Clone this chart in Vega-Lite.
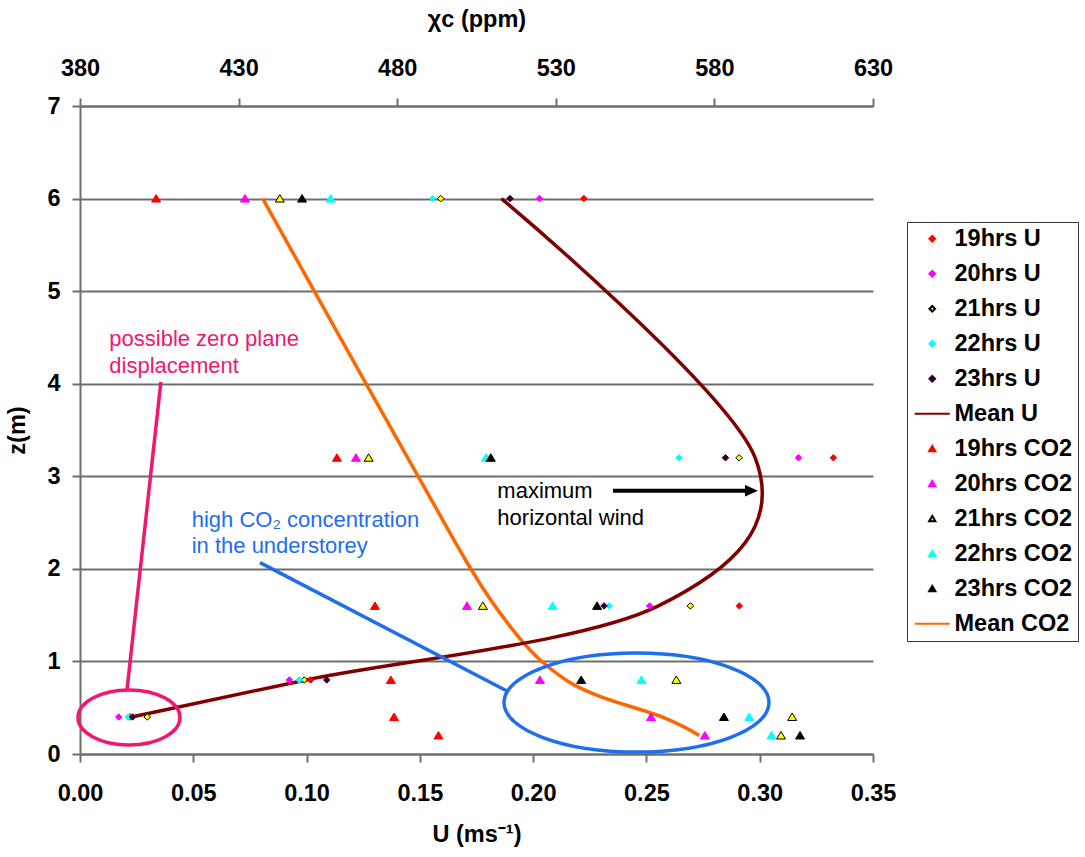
{
  "$schema": "https://vega.github.io/schema/vega-lite/v6.json",
  "width": 793,
  "height": 648,
  "autosize": {"type": "none"},
  "padding": {"left": 80, "top": 106, "right": 212, "bottom": 103},
  "background": "white",
  "config": {
    "font": "Liberation Sans",
    "view": {"stroke": null},
    "axis": {
      "labelFont": "Liberation Sans", "labelFontSize": 23.5, "labelFontWeight": "bold", "labelColor": "#000",
      "titleFont": "Liberation Sans", "titleFontSize": 23.5, "titleFontWeight": "bold", "titleColor": "#000",
      "domainColor": "#6e6e6e", "domainWidth": 2, "tickColor": "#6e6e6e", "tickWidth": 2, "tickSize": 8,
      "gridColor": "#6e6e6e", "gridWidth": 2, "grid": false, "labelFlush": false, "labelOverlap": false
    }
  },
  "datasets": {
    "u": [
      {"series": "19hrs U", "z": 6, "U": 0.2224}, {"series": "19hrs U", "z": 3.2, "U": 0.3325}, {"series": "19hrs U", "z": 1.6, "U": 0.291}, {"series": "19hrs U", "z": 0.8, "U": 0.1018}, {"series": "19hrs U", "z": 0.4, "U": 0.022},
      {"series": "20hrs U", "z": 6, "U": 0.2028}, {"series": "20hrs U", "z": 3.2, "U": 0.3171}, {"series": "20hrs U", "z": 1.6, "U": 0.2514}, {"series": "20hrs U", "z": 0.8, "U": 0.0924}, {"series": "20hrs U", "z": 0.4, "U": 0.0171},
      {"series": "21hrs U", "z": 6, "U": 0.1592}, {"series": "21hrs U", "z": 3.2, "U": 0.2909}, {"series": "21hrs U", "z": 1.6, "U": 0.2694}, {"series": "21hrs U", "z": 0.8, "U": 0.099}, {"series": "21hrs U", "z": 0.4, "U": 0.0297},
      {"series": "22hrs U", "z": 6, "U": 0.1556}, {"series": "22hrs U", "z": 3.2, "U": 0.2644}, {"series": "22hrs U", "z": 1.6, "U": 0.2336}, {"series": "22hrs U", "z": 0.8, "U": 0.0968}, {"series": "22hrs U", "z": 0.4, "U": 0.0213},
      {"series": "23hrs U", "z": 6, "U": 0.1898}, {"series": "23hrs U", "z": 3.2, "U": 0.2849}, {"series": "23hrs U", "z": 1.6, "U": 0.2313}, {"series": "23hrs U", "z": 0.8, "U": 0.1089}, {"series": "23hrs U", "z": 0.4, "U": 0.0232},
      {"series": "Mean U", "z": 6, "U": 0.186}, {"series": "Mean U", "z": 3.2, "U": 0.298}, {"series": "Mean U", "z": 1.6, "U": 0.2553}, {"series": "Mean U", "z": 0.8, "U": 0.0998}, {"series": "Mean U", "z": 0.4, "U": 0.0228}
    ],
    "co2": [
      {"series": "19hrs CO2", "z": 6, "CO2": 404}, {"series": "19hrs CO2", "z": 3.2, "CO2": 461}, {"series": "19hrs CO2", "z": 1.6, "CO2": 473}, {"series": "19hrs CO2", "z": 0.8, "CO2": 478}, {"series": "19hrs CO2", "z": 0.4, "CO2": 479}, {"series": "19hrs CO2", "z": 0.2, "CO2": 493},
      {"series": "20hrs CO2", "z": 6, "CO2": 432}, {"series": "20hrs CO2", "z": 3.2, "CO2": 467}, {"series": "20hrs CO2", "z": 1.6, "CO2": 502}, {"series": "20hrs CO2", "z": 0.8, "CO2": 525}, {"series": "20hrs CO2", "z": 0.4, "CO2": 560}, {"series": "20hrs CO2", "z": 0.2, "CO2": 577},
      {"series": "21hrs CO2", "z": 6, "CO2": 443}, {"series": "21hrs CO2", "z": 3.2, "CO2": 471}, {"series": "21hrs CO2", "z": 1.6, "CO2": 507}, {"series": "21hrs CO2", "z": 0.8, "CO2": 568}, {"series": "21hrs CO2", "z": 0.4, "CO2": 604.5}, {"series": "21hrs CO2", "z": 0.2, "CO2": 601},
      {"series": "22hrs CO2", "z": 6, "CO2": 459}, {"series": "22hrs CO2", "z": 3.2, "CO2": 508}, {"series": "22hrs CO2", "z": 1.6, "CO2": 529}, {"series": "22hrs CO2", "z": 0.8, "CO2": 557}, {"series": "22hrs CO2", "z": 0.4, "CO2": 591}, {"series": "22hrs CO2", "z": 0.2, "CO2": 598},
      {"series": "23hrs CO2", "z": 6, "CO2": 450}, {"series": "23hrs CO2", "z": 3.2, "CO2": 509.5}, {"series": "23hrs CO2", "z": 1.6, "CO2": 543}, {"series": "23hrs CO2", "z": 0.8, "CO2": 538}, {"series": "23hrs CO2", "z": 0.4, "CO2": 583}, {"series": "23hrs CO2", "z": 0.2, "CO2": 607},
      {"series": "Mean CO2", "z": 6, "CO2": 437.6}, {"series": "Mean CO2", "z": 3.2, "CO2": 483.3}, {"series": "Mean CO2", "z": 1.6, "CO2": 510.8}, {"series": "Mean CO2", "z": 0.8, "CO2": 533.2}, {"series": "Mean CO2", "z": 0.4, "CO2": 563.5}, {"series": "Mean CO2", "z": 0.2, "CO2": 575.2}
    ],
    "notes": [
      {"note": "zero", "label": "possible zero plane\ndisplacement", "U": 0.01293, "z": 4.407},
      {"note": "co2", "label": "high CO₂ concentration\nin the understorey", "U": 0.0493, "z": 2.455},
      {"note": "wind", "label": "maximum\nhorizontal wind", "U": 0.1842, "z": 2.762}
    ],
    "connectors": [
      {"note": "zero", "U": 0.0357, "z": 4.018, "U2": 0.02074, "z2": 0.691},
      {"note": "co2", "U": 0.07944, "z": 2.067, "U2": 0.18846, "z2": 0.6806},
      {"note": "wind", "U": 0.23525, "z": 2.844, "U2": 0.29682, "z2": 2.844}
    ],
    "ellipses": [
      {"note": "zero", "U": 0.02163, "z": 0.394},
      {"note": "co2", "U": 0.24562, "z": 0.556}
    ],
    "arrowhead": [
      {"note": "wind", "U": 0.29638, "z": 2.844}
    ]
  },
  "encoding": {
    "y": {
      "field": "z", "type": "quantitative",
      "scale": {"domain": [0, 7], "nice": false, "zero": false},
      "axis": {"values": [0, 1, 2, 3, 4, 5, 6, 7], "format": "d", "grid": true, "title": "z(m)", "labelPadding": 12, "titlePadding": 17}
    }
  },
  "layer": [
    {
      "encoding": {
        "x": {
          "field": "CO2", "type": "quantitative",
          "scale": {"domain": [380, 630], "nice": false, "zero": false},
          "axis": {"orient": "top", "values": [380, 430, 480, 530, 580, 630], "format": "d", "title": "χc (ppm)", "labelPadding": 18, "titlePadding": 25}
        }
      },
      "layer": [
        {
          "data": {"name": "co2"},
          "transform": [{"filter": "datum.series == 'Mean CO2'"}],
          "mark": {"type": "line", "interpolate": "cardinal", "strokeWidth": 3.5, "color": "#ff6600"},
          "encoding": {"order": {"field": "z", "type": "quantitative"}}
        },
        {
          "data": {"name": "co2"},
          "transform": [{"filter": "datum.series != 'Mean CO2'"}],
          "mark": {"type": "point", "filled": true, "size": 100, "opacity": 1, "strokeWidth": 1},
          "encoding": {
            "color": {"field": "series", "type": "nominal",
              "scale": {"domain": ["19hrs U", "20hrs U", "21hrs U", "22hrs U", "23hrs U", "Mean U", "19hrs CO2", "20hrs CO2", "21hrs CO2", "22hrs CO2", "23hrs CO2", "Mean CO2"],
                "range": ["#ff0000", "#ff00ff", "#ffff00", "#00ffff", "#330033", "#800000", "#ff0000", "#ff00ff", "#ffff00", "#00ffff", "#000000", "#ff6600"]},
              "legend": {"orient": "none", "legendX": 827, "legendY": 116, "title": null,
                "labelFont": "Liberation Sans", "labelFontSize": 23.5, "labelFontWeight": "bold", "labelColor": "#000",
                "symbolSize": 49, "symbolStrokeWidth": 2, "symbolOffset": 8.5, "labelOffset": 10.5, "rowPadding": 10, "padding": 5,
                "strokeColor": "#333333", "fillColor": "white", "symbolOpacity": 1}},
            "stroke": {"field": "series", "type": "nominal",
              "scale": {"domain": ["19hrs U", "20hrs U", "21hrs U", "22hrs U", "23hrs U", "Mean U", "19hrs CO2", "20hrs CO2", "21hrs CO2", "22hrs CO2", "23hrs CO2", "Mean CO2"],
                "range": ["#ff0000", "#ff00ff", "#000000", "#00ffff", "#330033", "#800000", "#ff0000", "#ff00ff", "#000000", "#00ffff", "#000000", "#ff6600"]},
              "legend": {"orient": "none", "legendX": 827, "legendY": 116, "title": null,
                "labelFont": "Liberation Sans", "labelFontSize": 23.5, "labelFontWeight": "bold", "labelColor": "#000",
                "symbolSize": 49, "symbolStrokeWidth": 2, "symbolOffset": 8.5, "labelOffset": 10.5, "rowPadding": 10, "padding": 5,
                "strokeColor": "#333333", "fillColor": "white", "symbolOpacity": 1}},
            "shape": {"field": "series", "type": "nominal",
              "scale": {"domain": ["19hrs U", "20hrs U", "21hrs U", "22hrs U", "23hrs U", "Mean U", "19hrs CO2", "20hrs CO2", "21hrs CO2", "22hrs CO2", "23hrs CO2", "Mean CO2"],
                "range": ["M 0 -0.8 L 0.8 0 L 0 0.8 L -0.8 0 Z", "M 0 -0.8 L 0.8 0 L 0 0.8 L -0.8 0 Z", "M 0 -0.8 L 0.8 0 L 0 0.8 L -0.8 0 Z", "M 0 -0.8 L 0.8 0 L 0 0.8 L -0.8 0 Z", "M 0 -0.8 L 0.8 0 L 0 0.8 L -0.8 0 Z", "M -5 0 L 5 0",
                  "M 0 -0.8 L 0.9 0.7 L -0.9 0.7 Z", "M 0 -0.8 L 0.9 0.7 L -0.9 0.7 Z", "M 0 -0.8 L 0.9 0.7 L -0.9 0.7 Z", "M 0 -0.8 L 0.9 0.7 L -0.9 0.7 Z", "M 0 -0.8 L 0.9 0.7 L -0.9 0.7 Z", "M -5 0 L 5 0"]},
              "legend": {"orient": "none", "legendX": 827, "legendY": 116, "title": null,
                "labelFont": "Liberation Sans", "labelFontSize": 23.5, "labelFontWeight": "bold", "labelColor": "#000",
                "symbolSize": 49, "symbolStrokeWidth": 2, "symbolOffset": 8.5, "labelOffset": 10.5, "rowPadding": 10, "padding": 5,
                "strokeColor": "#333333", "fillColor": "white", "symbolOpacity": 1}}
          }
        }
      ]
    },
    {
      "encoding": {
        "x": {
          "field": "U", "type": "quantitative",
          "scale": {"domain": [0, 0.35], "nice": false, "zero": false},
          "axis": {"orient": "bottom", "values": [0, 0.05, 0.1, 0.15, 0.2, 0.25, 0.3, 0.35], "format": ".2f", "title": "U (ms⁻¹)", "labelPadding": 19, "titlePadding": 18}
        }
      },
      "layer": [
        {
          "data": {"name": "u"},
          "transform": [{"filter": "datum.series == 'Mean U'"}],
          "mark": {"type": "line", "interpolate": "cardinal", "strokeWidth": 3.5, "color": "#800000"},
          "encoding": {"order": {"field": "z", "type": "quantitative"}}
        },
        {
          "data": {"name": "u"},
          "transform": [{"filter": "datum.series != 'Mean U'"}],
          "mark": {"type": "point", "filled": true, "size": 66, "opacity": 1, "strokeWidth": 1},
          "encoding": {
            "color": {"field": "series", "type": "nominal",
              "scale": {"domain": ["19hrs U", "20hrs U", "21hrs U", "22hrs U", "23hrs U", "Mean U", "19hrs CO2", "20hrs CO2", "21hrs CO2", "22hrs CO2", "23hrs CO2", "Mean CO2"],
                "range": ["#ff0000", "#ff00ff", "#ffff00", "#00ffff", "#330033", "#800000", "#ff0000", "#ff00ff", "#ffff00", "#00ffff", "#000000", "#ff6600"]},
              "legend": {"orient": "none", "legendX": 827, "legendY": 116, "title": null,
                "labelFont": "Liberation Sans", "labelFontSize": 23.5, "labelFontWeight": "bold", "labelColor": "#000",
                "symbolSize": 49, "symbolStrokeWidth": 2, "symbolOffset": 8.5, "labelOffset": 10.5, "rowPadding": 10, "padding": 5,
                "strokeColor": "#333333", "fillColor": "white", "symbolOpacity": 1}},
            "stroke": {"field": "series", "type": "nominal",
              "scale": {"domain": ["19hrs U", "20hrs U", "21hrs U", "22hrs U", "23hrs U", "Mean U", "19hrs CO2", "20hrs CO2", "21hrs CO2", "22hrs CO2", "23hrs CO2", "Mean CO2"],
                "range": ["#ff0000", "#ff00ff", "#000000", "#00ffff", "#330033", "#800000", "#ff0000", "#ff00ff", "#000000", "#00ffff", "#000000", "#ff6600"]},
              "legend": {"orient": "none", "legendX": 827, "legendY": 116, "title": null,
                "labelFont": "Liberation Sans", "labelFontSize": 23.5, "labelFontWeight": "bold", "labelColor": "#000",
                "symbolSize": 49, "symbolStrokeWidth": 2, "symbolOffset": 8.5, "labelOffset": 10.5, "rowPadding": 10, "padding": 5,
                "strokeColor": "#333333", "fillColor": "white", "symbolOpacity": 1}},
            "shape": {"field": "series", "type": "nominal",
              "scale": {"domain": ["19hrs U", "20hrs U", "21hrs U", "22hrs U", "23hrs U", "Mean U", "19hrs CO2", "20hrs CO2", "21hrs CO2", "22hrs CO2", "23hrs CO2", "Mean CO2"],
                "range": ["M 0 -0.8 L 0.8 0 L 0 0.8 L -0.8 0 Z", "M 0 -0.8 L 0.8 0 L 0 0.8 L -0.8 0 Z", "M 0 -0.8 L 0.8 0 L 0 0.8 L -0.8 0 Z", "M 0 -0.8 L 0.8 0 L 0 0.8 L -0.8 0 Z", "M 0 -0.8 L 0.8 0 L 0 0.8 L -0.8 0 Z", "M -5 0 L 5 0",
                  "M 0 -0.8 L 0.9 0.7 L -0.9 0.7 Z", "M 0 -0.8 L 0.9 0.7 L -0.9 0.7 Z", "M 0 -0.8 L 0.9 0.7 L -0.9 0.7 Z", "M 0 -0.8 L 0.9 0.7 L -0.9 0.7 Z", "M 0 -0.8 L 0.9 0.7 L -0.9 0.7 Z", "M -5 0 L 5 0"]},
              "legend": {"orient": "none", "legendX": 827, "legendY": 116, "title": null,
                "labelFont": "Liberation Sans", "labelFontSize": 23.5, "labelFontWeight": "bold", "labelColor": "#000",
                "symbolSize": 49, "symbolStrokeWidth": 2, "symbolOffset": 8.5, "labelOffset": 10.5, "rowPadding": 10, "padding": 5,
                "strokeColor": "#333333", "fillColor": "white", "symbolOpacity": 1}}
          }
        },
        {
          "data": {"name": "ellipses"},
          "transform": [{"filter": "datum.note == 'zero'"}],
          "mark": {"type": "point", "filled": false, "opacity": 1, "color": "#f0186e", "strokeWidth": 3.5, "size": 10404,
            "shape": "M -1 0 C -1 -0.298 -0.5523 -0.54 0 -0.54 C 0.5523 -0.54 1 -0.298 1 0 C 1 0.298 0.5523 0.54 0 0.54 C -0.5523 0.54 -1 0.298 -1 0 Z"},
          "encoding": {}
        },
        {
          "data": {"name": "ellipses"},
          "transform": [{"filter": "datum.note == 'co2'"}],
          "mark": {"type": "point", "filled": false, "opacity": 1, "color": "#1e6ef0", "strokeWidth": 3.5, "size": 70225,
            "shape": "M -1 0 C -1 -0.2063 -0.5523 -0.3736 0 -0.3736 C 0.5523 -0.3736 1 -0.2063 1 0 C 1 0.2063 0.5523 0.3736 0 0.3736 C -0.5523 0.3736 -1 0.2063 -1 0 Z"},
          "encoding": {}
        },
        {
          "data": {"name": "connectors"},
          "transform": [{"filter": "datum.note == 'zero'"}],
          "mark": {"type": "rule", "color": "#f0186e", "strokeWidth": 3.5},
          "encoding": {"x2": {"field": "U2"}, "y2": {"field": "z2"}}
        },
        {
          "data": {"name": "connectors"},
          "transform": [{"filter": "datum.note == 'co2'"}],
          "mark": {"type": "rule", "color": "#1e6ef0", "strokeWidth": 3.5},
          "encoding": {"x2": {"field": "U2"}, "y2": {"field": "z2"}}
        },
        {
          "data": {"name": "connectors"},
          "transform": [{"filter": "datum.note == 'wind'"}],
          "mark": {"type": "rule", "color": "#000000", "strokeWidth": 4},
          "encoding": {"x2": {"field": "U2"}, "y2": {"field": "z2"}}
        },
        {
          "data": {"name": "arrowhead"},
          "mark": {"type": "point", "filled": true, "opacity": 1, "color": "#000000", "size": 169,
            "shape": "M -1 -0.9 L 1 0 L -1 0.9 Z"},
          "encoding": {}
        },
        {
          "data": {"name": "notes"},
          "transform": [{"filter": "datum.note == 'zero'"}],
          "mark": {"type": "text", "align": "left", "baseline": "alphabetic", "font": "Liberation Sans", "fontSize": 22, "lineHeight": 26.5, "lineBreak": "\n", "color": "#f0186e"},
          "encoding": {"text": {"field": "label", "type": "nominal"}}
        },
        {
          "data": {"name": "notes"},
          "transform": [{"filter": "datum.note == 'co2'"}],
          "mark": {"type": "text", "align": "left", "baseline": "alphabetic", "font": "Liberation Sans", "fontSize": 22, "lineHeight": 26.5, "lineBreak": "\n", "color": "#1e6ef0"},
          "encoding": {"text": {"field": "label", "type": "nominal"}}
        },
        {
          "data": {"name": "notes"},
          "transform": [{"filter": "datum.note == 'wind'"}],
          "mark": {"type": "text", "align": "left", "baseline": "alphabetic", "font": "Liberation Sans", "fontSize": 22, "lineHeight": 26.5, "lineBreak": "\n", "color": "#000000"},
          "encoding": {"text": {"field": "label", "type": "nominal"}}
        }
      ]
    }
  ],
  "resolve": {"scale": {"x": "independent"}, "axis": {"x": "independent"}}
}
